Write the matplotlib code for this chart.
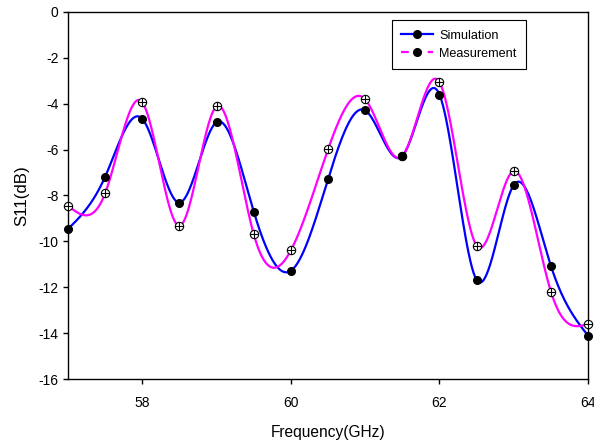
import numpy as np
import matplotlib
matplotlib.use("Agg")
import matplotlib.pyplot as plt
from matplotlib.lines import Line2D

plt.rcParams['font.family'] = ['Liberation Sans', 'DejaVu Sans']

freq = [57.0, 57.5, 58.0, 58.5, 59.0, 59.5, 60.0, 60.5, 61.0, 61.5, 62.0, 62.5, 63.0, 63.5, 64.0]
simulation = [-9.46, -7.18, -4.66, -8.31, -4.80, -8.70, -11.28, -7.29, -4.29, -6.28, -3.60, -11.68, -7.54, -11.07, -14.11]
measurement = [-8.44, -7.90, -3.94, -9.32, -4.11, -9.69, -10.39, -5.99, -3.81, -6.28, -3.06, -10.19, -6.93, -12.19, -13.60]
xticks = [58, 60, 62, 64]
yticks = [0, -2, -4, -6, -8, -10, -12, -14, -16]


def natural_spline(x, y, xs):
    x = np.asarray(x, float)
    y = np.asarray(y, float)
    n = len(x)
    h = np.diff(x)
    A = np.zeros((n, n))
    b = np.zeros(n)
    A[0, 0] = 1
    A[-1, -1] = 1
    for i in range(1, n - 1):
        A[i, i - 1] = h[i - 1]
        A[i, i] = 2 * (h[i - 1] + h[i])
        A[i, i + 1] = h[i]
        b[i] = 3 * ((y[i + 1] - y[i]) / h[i] - (y[i] - y[i - 1]) / h[i - 1])
    c = np.linalg.solve(A, b)
    ys = np.empty_like(xs)
    idx = np.clip(np.searchsorted(x, xs) - 1, 0, n - 2)
    for k, (xv, i) in enumerate(zip(xs, idx)):
        bi = (y[i + 1] - y[i]) / h[i] - h[i] * (2 * c[i] + c[i + 1]) / 3
        di = (c[i + 1] - c[i]) / (3 * h[i])
        t = xv - x[i]
        ys[k] = y[i] + bi * t + c[i] * t ** 2 + di * t ** 3
    return ys


fig = plt.figure(figsize=(5.94, 4.42), dpi=100)
ax = fig.add_axes([0.1145, 0.1425, 0.8755, 0.8304])

xs = np.linspace(freq[0], freq[-1], 700)
ax.plot(xs, natural_spline(freq, simulation, xs), color='#0000ff', lw=1.6, zorder=2)
ax.plot(xs, natural_spline(freq, measurement, xs), color='#ff00ff', lw=1.6, zorder=2)

ax.plot(freq, simulation, 'o', color='black', ms=5.5, zorder=4, clip_on=False)
ax.plot(freq, measurement, 'o', mfc='white', mec='black', mew=0.8, ms=6, zorder=3, clip_on=False)
ax.plot(freq, measurement, '+', color='black', mew=0.8, ms=6, zorder=3, clip_on=False)

ax.set_xlim(57, 64)
ax.set_ylim(-16, 0)
ax.set_xticks(xticks)
ax.set_yticks(yticks)
ax.set_yticklabels([str(v) for v in yticks])
ax.tick_params(direction='out', length=3.8, width=1, labelsize=10, colors='black')
ax.tick_params(axis='x', pad=8.5)
ax.tick_params(axis='y', pad=3)
for s in ax.spines.values():
    s.set_linewidth(1)
ax.set_xlabel('Frequency(GHz)', fontsize=11.2, labelpad=11)
ax.set_ylabel('S11(dB)', fontsize=12.2, labelpad=6.6)

handles = [
    Line2D([], [], color='#0000ff', lw=1.6, marker='o', mfc='black', mec='black', ms=5.5),
    Line2D([], [], color='#ff00ff', lw=1.6, ls=(0, (3.5, 2.5)), marker='o', mfc='black', mec='black', ms=5.5),
]
leg = ax.legend(handles, ['Simulation', 'Measurement'], loc='upper left',
                bbox_to_anchor=(0.623, 0.978), borderaxespad=0, fontsize=9.1,
                handlelength=2.5, fancybox=False, framealpha=1, edgecolor='black',
                borderpad=0.75, labelspacing=0.5, handletextpad=0.5)
leg.get_frame().set_linewidth(0.8)

fig.savefig('out.png', dpi=100)
